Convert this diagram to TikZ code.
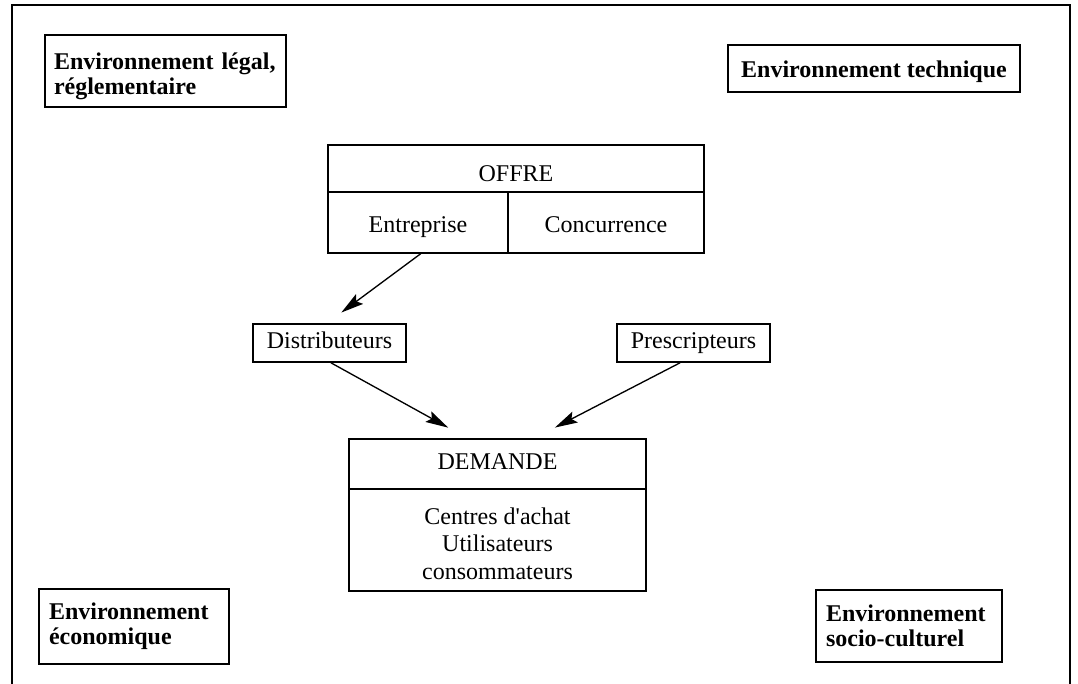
\documentclass[tikz,border=0pt]{standalone}
\usepackage{fontspec}
\setmainfont{Liberation Serif}
\usetikzlibrary{arrows.meta}
\begin{document}
\begin{tikzpicture}[x=0.75pt,y=-0.75pt,
  envbox/.style={draw,line width=1.1pt,font=\fontsize{18}{18.75}\selectfont\bfseries,align=left,inner sep=0pt},
  cell/.style={draw,line width=1.1pt,font=\fontsize{18}{20}\selectfont,align=center,inner sep=0pt,text height=12pt,text depth=4.5pt},
  bodycell/.style={draw,line width=1.1pt,font=\fontsize{18}{20.5}\selectfont,align=center,inner sep=0pt},
  arr/.style={line width=1pt,-{Stealth[length=17pt,width=9pt,inset=3pt]}}]
\useasboundingbox (0,0) rectangle (1078,683);
\clip (0,0) rectangle (1078,683);
\draw[line width=1.1pt] (12,700) -- (12,5) -- (1070,5) -- (1070,700);
% environment boxes
\node[envbox,minimum width=241*0.75pt,minimum height=72*0.75pt,text width=223*0.75pt] (legal) at (165.5,71) {\rule{0pt}{21pt}Environnement légal,\\réglementaire};
\node[envbox,minimum width=292*0.75pt,minimum height=47*0.75pt,align=center,text height=14pt,text depth=1.25pt] (tech) at (874,68.5) {Environnement technique};
\node[envbox,minimum width=190*0.75pt,minimum height=75*0.75pt,text width=170*0.75pt] (eco) at (134,626.5) {Environnement\\économique};
\node[envbox,minimum width=186*0.75pt,minimum height=72*0.75pt,text width=166*0.75pt] (socio) at (909,626) {Environnement\\socio-culturel};
% OFFRE
\node[cell,minimum width=376*0.75pt,minimum height=47*0.75pt,text height=19.5pt,text depth=0pt] (offre) at (516,168.5) {OFFRE};
\node[cell,minimum width=180*0.75pt,minimum height=61*0.75pt,text height=16pt,text depth=1.75pt] (entr) at (418,222.5) {Entreprise};
\node[cell,minimum width=196*0.75pt,minimum height=61*0.75pt,text height=16pt,text depth=1.75pt] (conc) at (606,222.5) {Concurrence};
% intermediaries
\node[cell,minimum width=153*0.75pt,minimum height=38*0.75pt] (distrib) at (329.5,343) {Distributeurs};
\node[cell,minimum width=153*0.75pt,minimum height=38*0.75pt] (presc) at (693.5,343) {Prescripteurs};
% DEMANDE
\node[cell,minimum width=297*0.75pt,minimum height=50*0.75pt] (demande) at (497.5,464) {DEMANDE};
\node[bodycell,minimum width=297*0.75pt,minimum height=102*0.75pt] (dembody) at (497.5,540) {\rule{0pt}{18pt}Centres d\textquotesingle achat\\Utilisateurs\\consommateurs};
% arrows
\draw[arr,shorten >=13.5pt] ([xshift=2pt]entr.south) -- ([xshift=-2pt]distrib.north);
\draw[arr,shorten >=16.5pt] ([xshift=1pt]distrib.south) -- ([xshift=-22.5pt]demande.north);
\draw[arr,shorten >=17.5pt] ([xshift=-10pt]presc.south) -- ([xshift=27.5pt]demande.north);
\end{tikzpicture}
\end{document}
